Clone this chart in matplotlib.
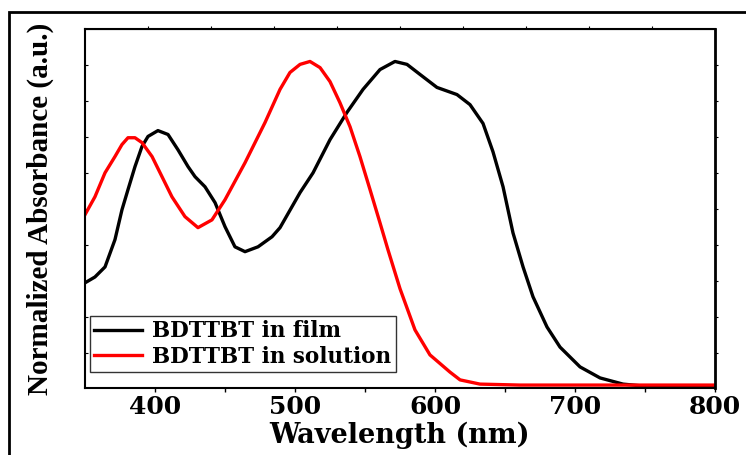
import numpy as np
import matplotlib.pyplot as plt
from matplotlib.patches import Rectangle

# wavelengths (nm) and normalized absorbance
film_nm = [350, 357.1, 364.3, 371.4, 376.4, 380.7, 385.7, 390.7, 395.0, 402.1,
           409.3, 416.4, 423.6, 428.6, 435.7, 442.9, 450.0, 457.1, 464.3, 473.6,
           483.6, 489.3, 503.6, 512.9, 525.0, 537.1, 548.6, 560.7, 571.4, 580.0,
           589.3, 601.4, 615.7, 625.0, 634.3, 641.4, 648.6, 655.7, 662.9, 670.0,
           680.0, 689.3, 703.6, 717.9, 734.3, 746.4, 800]
film_abs = [0.318, 0.336, 0.367, 0.451, 0.543, 0.605, 0.676, 0.738, 0.769, 0.787,
            0.775, 0.728, 0.676, 0.645, 0.614, 0.565, 0.491, 0.429, 0.414, 0.429,
            0.460, 0.488, 0.596, 0.657, 0.759, 0.843, 0.914, 0.975, 1.0, 0.991,
            0.960, 0.920, 0.898, 0.867, 0.809, 0.722, 0.614, 0.472, 0.367, 0.275,
            0.182, 0.120, 0.059, 0.025, 0.006, 0.001, 0.0]

sol_nm = [350, 357.1, 364.3, 371.4, 376.4, 380.7, 385.7, 390.7, 397.9, 405.0,
          412.1, 421.4, 430.7, 440.7, 450.0, 464.3, 478.6, 489.3, 496.4, 503.6,
          510.7, 517.9, 525.0, 532.1, 539.3, 546.4, 553.6, 560.7, 566.4, 575.0,
          585.7, 596.4, 610.7, 617.9, 632.1, 660.7, 800]
sol_abs = [0.528, 0.583, 0.657, 0.707, 0.744, 0.765, 0.765, 0.750, 0.707, 0.645,
           0.583, 0.522, 0.488, 0.512, 0.574, 0.688, 0.812, 0.914, 0.966, 0.991,
           1.0, 0.981, 0.938, 0.873, 0.799, 0.707, 0.605, 0.503, 0.420, 0.300,
           0.173, 0.096, 0.043, 0.019, 0.006, 0.003, 0.003]

plt.rcParams['font.family'] = ['DejaVu Serif']
plt.rcParams['font.weight'] = 'bold'

fig = plt.figure(figsize=(7.46, 4.55), dpi=100)
ax = fig.add_axes([85 / 746, 1 - 388 / 455, 630 / 746, 359 / 455])

ax.plot(film_nm, film_abs, color='black', lw=2.4, label='BDTTBT in film')
ax.plot(sol_nm, sol_abs, color='red', lw=2.4, label='BDTTBT in solution')

ax.set_xlim(350, 800)
ax.set_ylim(-0.006, 1.10)
ax.set_xticks([400, 500, 600, 700, 800])
ax.set_xticks([450, 550, 650, 750], minor=True)
ax.set_yticks(np.arange(0.99, 0.0, -0.111))
ax.tick_params(axis='y', direction='in', length=2, labelleft=False)
ax.tick_params(axis='x', which='both', direction='out', length=3, width=1,
               labelsize=18, pad=2)
for s in ax.spines.values():
    s.set_linewidth(1.5)
ax.spines['right'].set_linewidth(2)

top = ax.secondary_xaxis('top')
top.set_xticks(np.arange(395, 800, 45))
top.tick_params(direction='out', length=2, labeltop=False)
right = ax.secondary_yaxis('right')
right.set_yticks(np.arange(0.99, 0.0, -0.111))
right.tick_params(direction='out', length=2, labelright=False)

ax.set_xlabel('Wavelength (nm)', fontsize=19.5, fontweight='bold', labelpad=2)
ax.set_ylabel('Normalized Absorbance (a.u.)', fontsize=21, fontweight='bold',
              family=['Liberation Serif'], labelpad=22)

leg = ax.legend(loc='lower left', bbox_to_anchor=(0.008, 0.045),
                prop={'size': 15.5, 'weight': 'bold'},
                frameon=True, fancybox=False, edgecolor='black',
                handlelength=2.2, borderpad=0.2, labelspacing=0.15,
                handletextpad=0.5, borderaxespad=0)
leg.get_frame().set_linewidth(1)

fig.patches.append(Rectangle((9 / 746, -0.1), 1.2, 1 - 12 / 455 + 0.1,
                             transform=fig.transFigure, fill=False,
                             edgecolor='black', lw=2, zorder=0))

fig.savefig('out.png', dpi=100)
